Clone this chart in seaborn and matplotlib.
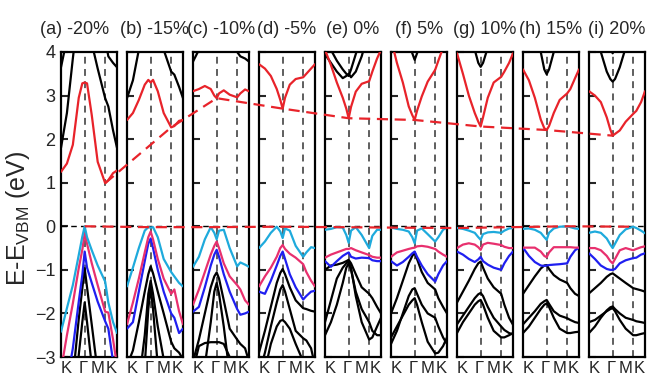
import numpy as np
import pandas as pd
import seaborn as sns
import matplotlib.pyplot as plt
from matplotlib.lines import Line2D
from matplotlib.transforms import ScaledTranslation

# k-path K -> Gamma -> M -> K (path length units)
K_PATH = [0.0, 0.25, 0.5, 0.75, 0.9, 1.0, 1.1, 1.3, 1.55, 1.866, 2.0, 2.2, 2.366]
K_TICKS = [0.0, 1.0, 1.866, 2.366]
K_LABELS = ['K', 'Γ', 'M', 'K']
Y_TICKS = [4, 3, 2, 1, 0, -1, -2, -3]
TITLES = ['(a) -20%', '(b) -15%', '(c) -10%', '(d) -5%', '(e) 0%',
          '(f) 5%', '(g) 10%', '(h) 15%', '(i) 20%']

# lowest conduction band (red), one row per strain
RED = [
    [1.25, 1.44, 1.87, 2.95, 3.28, 3.3, 3.28, 2.55, 1.48, 0.99, 1.06, 1.22, 1.28],
    [2.44, 2.6, 2.9, 3.25, 3.36, 3.3, 3.36, 3.1, 2.6, 2.27, 2.3, 2.42, 2.44],
    [3.1, 3.15, 3.22, 3.15, 3.0, 2.94, 3.05, 3.12, 3.02, 2.96, 3.05, 3.14, 3.1],
    [3.72, 3.62, 3.45, 3.15, 2.9, 2.7, 2.95, 3.25, 3.38, 3.42, 3.5, 3.62, 3.72],
    [4.05, 3.7, 3.3, 2.95, 2.7, 2.48, 2.74, 3.09, 3.27, 3.33, 3.55, 3.85, 4.05],
    [4.3, 3.75, 3.3, 2.75, 2.55, 2.44, 2.65, 2.98, 3.32, 3.59, 3.8, 4.1, 4.35],
    [3.97, 3.5, 3.0, 2.6, 2.4, 2.29, 2.5, 2.95, 3.3, 3.43, 3.55, 3.75, 3.97],
    [3.6, 3.35, 2.95, 2.45, 2.25, 2.21, 2.3, 2.6, 2.9, 3.05, 3.15, 3.4, 3.6],
    [3.1, 3.0, 2.85, 2.5, 2.22, 2.08, 2.12, 2.2, 2.4, 2.58, 2.65, 2.85, 3.1],
]
# higher conduction bands (black)
CB1 = [
    [1.8, 2.6, 3.85, 5.0, 5.5, 5.5, 5.5, 4.2, 3.62, 2.94, 2.75, 2.2, 1.8],
    [2.94, 3.35, 4.05, 4.6, 5.0, 5.0, 5.0, 4.6, 4.05, 3.55, 3.48, 3.2, 2.94],
    [3.78, 4.05, 4.5, 5.0, 5.0, 5.0, 5.0, 4.6, 4.2, 4.0, 3.9, 3.85, 3.78],
    [5.0, 5.0, 5.0, 5.0, 5.0, 5.0, 5.0, 5.0, 5.0, 5.0, 5.0, 5.0, 5.0],
    [3.95, 3.75, 3.55, 3.4, 3.45, 3.5, 3.42, 3.55, 3.9, 4.5, 5.0, 5.0, 5.0],
    [5.0, 5.0, 5.0, 4.3, 3.97, 3.82, 3.97, 4.3, 5.0, 5.0, 5.0, 5.0, 5.0],
    [5.0, 5.0, 5.0, 4.05, 3.75, 3.66, 3.75, 4.1, 5.0, 5.0, 5.0, 5.0, 5.0],
    [5.0, 5.0, 5.0, 4.0, 3.6, 3.49, 3.6, 4.0, 5.0, 5.0, 5.0, 5.0, 5.0],
    [5.0, 5.0, 4.0, 3.55, 3.38, 3.32, 3.38, 3.65, 4.1, 5.0, 5.0, 5.0, 5.0],
]
CB2 = [
    [3.65, 4.3, 5.0, 5.0, 5.0, 5.0, 5.0, 5.0, 5.0, 4.3, 3.9, 3.75, 3.65],
    [5.0] * 13,
    [5.0] * 13,
    [5.0] * 13,
    [4.6, 4.05, 3.8, 3.6, 3.5, 3.45, 3.6, 3.95, 4.4, 5.0, 5.0, 5.0, 5.0],
    [5.0] * 13,
    [5.0] * 13,
    [5.0] * 13,
    [5.0, 5.0, 5.0, 5.0, 4.1, 3.97, 4.1, 5.0, 5.0, 5.0, 5.0, 5.0, 5.0],
]
# top three valence bands
CYAN = [
    [-2.42, -1.88, -1.35, -0.66, -0.24, 0.0, -0.25, -0.55, -0.9, -1.27, -1.75, -2.2, -2.45],
    [-1.38, -0.95, -0.5, -0.1, -0.02, -0.03, -0.02, -0.25, -0.75, -1.05, -1.15, -1.3, -1.38],
    [-0.93, -0.7, -0.3, -0.02, -0.15, -0.3, -0.1, -0.08, -0.5, -0.92, -0.83, -0.88, -0.93],
    [-0.5, -0.35, -0.15, -0.01, -0.12, -0.27, -0.05, -0.1, -0.45, -0.7, -0.6, -0.48, -0.5],
    [-0.08, -0.06, -0.02, -0.03, -0.2, -0.38, -0.1, -0.02, -0.2, -0.5, -0.22, -0.08, -0.08],
    [-0.03, -0.06, -0.08, -0.12, -0.25, -0.39, -0.1, -0.05, -0.18, -0.35, -0.25, -0.08, -0.03],
    [-0.04, -0.06, -0.1, -0.15, -0.25, -0.31, -0.18, -0.14, -0.13, -0.15, -0.1, -0.05, -0.04],
    [-0.06, -0.05, -0.08, -0.15, -0.25, -0.31, -0.15, -0.05, -0.01, 0.0, -0.02, -0.05, -0.06],
    [-0.15, -0.12, -0.15, -0.28, -0.42, -0.5, -0.4, -0.2, -0.07, -0.01, -0.04, -0.1, -0.16],
]
MAGENTA = [
    [-3.3, -2.5, -1.77, -0.96, -0.54, -0.16, -0.4, -0.85, -1.35, -1.96, -1.98, -2.6, -3.2],
    [-2.25, -1.75, -1.2, -0.6, -0.25, -0.12, -0.3, -0.75, -1.2, -1.55, -1.45, -1.95, -2.25],
    [-1.8, -1.45, -1.05, -0.65, -0.45, -0.35, -0.5, -0.85, -1.15, -1.35, -1.45, -1.7, -1.8],
    [-1.38, -1.15, -0.95, -0.7, -0.5, -0.43, -0.52, -0.63, -0.72, -0.87, -1.05, -1.25, -1.38],
    [-0.72, -0.65, -0.6, -0.55, -0.52, -0.52, -0.5, -0.55, -0.6, -0.66, -0.7, -0.72, -0.72],
    [-0.7, -0.6, -0.56, -0.52, -0.5, -0.49, -0.46, -0.45, -0.47, -0.52, -0.58, -0.65, -0.7],
    [-0.5, -0.42, -0.39, -0.42, -0.48, -0.54, -0.42, -0.38, -0.4, -0.43, -0.47, -0.5, -0.5],
    [-0.49, -0.49, -0.49, -0.58, -0.68, -0.71, -0.6, -0.48, -0.48, -0.48, -0.48, -0.49, -0.49],
    [-0.5, -0.5, -0.55, -0.68, -0.8, -0.85, -0.75, -0.55, -0.5, -0.55, -0.52, -0.48, -0.46],
]
BLUE = [
    [-4.5, -3.6, -2.8, -1.73, -1.12, -0.58, -0.95, -1.3, -1.73, -2.18, -2.35, -3.1, -4.0],
    [-2.35, -2.2, -1.5, -0.8, -0.4, -0.28, -0.5, -1.0, -1.5, -2.0, -2.1, -2.45, -2.35],
    [-1.96, -1.85, -1.4, -0.9, -0.65, -0.54, -0.7, -1.1, -1.5, -1.9, -2.03, -2.0, -1.96],
    [-1.5, -1.55, -1.25, -0.9, -0.68, -0.58, -0.75, -1.1, -1.4, -1.68, -1.6, -1.5, -1.48],
    [-0.8, -0.93, -0.8, -0.68, -0.63, -0.6, -0.7, -0.74, -0.72, -0.73, -0.78, -0.8, -0.8],
    [-0.8, -0.9, -0.82, -0.7, -0.62, -0.58, -0.7, -0.9, -1.1, -1.27, -1.1, -0.9, -0.8],
    [-0.58, -0.65, -0.75, -0.82, -0.76, -0.7, -0.8, -0.88, -0.95, -1.0, -0.85, -0.68, -0.58],
    [-0.49, -0.68, -0.82, -0.9, -0.91, -0.9, -0.89, -0.88, -0.87, -0.85, -0.7, -0.55, -0.49],
    [-0.62, -0.75, -0.9, -0.98, -1.0, -1.0, -0.98, -0.85, -0.78, -0.73, -0.72, -0.65, -0.62],
]
# deeper valence bands (black)
VB1 = [
    [-7.0, -5.8, -3.5, -2.13, -1.43, -0.96, -1.4, -2.26, -3.35, -5.0, -6.0, -7.0, -7.0],
    [-3.2, -2.85, -2.2, -1.5, -1.1, -0.92, -1.08, -1.5, -2.0, -2.65, -2.8, -2.9, -3.05],
    [-3.1, -2.6, -2.0, -1.4, -1.15, -1.06, -1.2, -1.7, -2.35, -2.6, -2.7, -2.8, -3.1],
    [-2.9, -2.4, -1.85, -1.3, -1.07, -0.98, -1.1, -1.4, -1.7, -1.88, -1.9, -1.94, -1.96],
    [-1.0, -0.9, -0.88, -0.84, -0.8, -0.77, -0.85, -1.1, -1.4, -1.55, -1.65, -1.85, -2.0],
    [-2.0, -1.65, -1.25, -0.85, -0.68, -0.6, -0.75, -1.05, -1.3, -1.45, -1.65, -1.85, -2.0],
    [-1.75, -1.5, -1.25, -0.98, -0.85, -0.81, -0.95, -1.2, -1.4, -1.55, -1.8, -2.1, -2.26],
    [-1.55, -1.35, -1.15, -0.97, -0.9, -0.89, -0.98, -1.12, -1.22, -1.3, -1.42, -1.55, -1.6],
    [-1.54, -1.42, -1.3, -1.16, -1.1, -1.08, -1.12, -1.2, -1.3, -1.42, -1.44, -1.47, -1.5],
]
VB2 = [
    [-8.0, -7.0, -5.0, -2.95, -2.2, -1.75, -2.2, -3.2, -4.5, -6.0, -7.0, -8.0, -8.0],
    [-5.0, -4.5, -3.6, -2.5, -1.55, -1.25, -1.55, -2.3, -3.05, -4.0, -5.0, -5.0, -5.0],
    [-5.0, -4.5, -3.2, -2.2, -1.5, -1.3, -1.55, -2.3, -3.4, -4.5, -5.0, -5.0, -5.0],
    [-3.4, -2.9, -2.3, -1.75, -1.45, -1.35, -1.5, -1.9, -2.4, -2.57, -2.62, -2.8, -3.2],
    [-2.2, -1.7, -1.2, -0.95, -0.85, -0.8, -0.95, -1.6, -2.2, -2.6, -2.55, -2.3, -2.1],
    [-2.7, -2.4, -2.0, -1.6, -1.45, -1.42, -1.55, -1.8, -2.0, -2.1, -2.3, -2.55, -2.7],
    [-2.25, -2.05, -1.85, -1.65, -1.56, -1.53, -1.6, -1.85, -2.1, -2.3, -2.38, -2.45, -2.48],
    [-2.25, -2.1, -1.95, -1.78, -1.72, -1.69, -1.78, -1.95, -2.05, -2.11, -2.15, -2.2, -2.22],
    [-2.45, -2.3, -2.1, -1.93, -1.86, -1.84, -1.9, -2.0, -2.1, -2.15, -2.18, -2.2, -2.22],
]
VB3 = [
    [-8.0] * 13,
    [-5.0, -5.0, -4.5, -3.2, -1.9, -1.4, -1.9, -3.2, -4.5, -5.0, -5.0, -5.0, -5.0],
    [-3.3, -2.75, -2.68, -2.66, -2.66, -2.66, -2.66, -2.7, -3.0, -3.5, -4.0, -4.0, -4.0],
    [-4.0, -3.3, -2.7, -2.3, -2.17, -2.15, -2.2, -2.35, -2.7, -3.1, -3.4, -3.8, -4.0],
    [-2.5, -2.2, -1.8, -1.3, -0.95, -0.85, -1.0, -1.5, -1.9, -2.2, -2.4, -2.5, -2.5],
    [-2.55, -2.3, -2.05, -1.8, -1.7, -1.65, -1.8, -2.2, -2.65, -2.92, -2.9, -2.75, -2.55],
    [-2.45, -2.2, -2.0, -1.8, -1.72, -1.69, -1.8, -2.1, -2.4, -2.55, -2.55, -2.5, -2.45],
    [-2.45, -2.3, -2.1, -1.9, -1.8, -1.77, -1.85, -2.1, -2.35, -2.45, -2.45, -2.43, -2.42],
    [-2.2, -2.15, -2.05, -1.95, -1.9, -1.88, -1.95, -2.15, -2.35, -2.5, -2.5, -2.47, -2.45],
]

RED_C = '#e8232a'
BANDS = {'vb3': VB3, 'vb2': VB2, 'vb1': VB1, 'cb2': CB2, 'cb1': CB1,
         'blue': BLUE, 'magenta': MAGENTA, 'cyan': CYAN, 'red': RED}
PALETTE = {'vb3': 'black', 'vb2': 'black', 'vb1': 'black', 'cb2': 'black',
           'cb1': 'black', 'blue': '#1f1ff0', 'magenta': '#e8306e',
           'cyan': '#1eaadc', 'red': RED_C}

sns.set_style('ticks')
plt.rcParams['font.family'] = ['Liberation Sans', 'DejaVu Sans']

fig = plt.figure(figsize=(6.52, 3.83), dpi=100)

left0, step, width = 61 / 652, 66 / 652, 56 / 652
bottom, height = 1 - 357 / 383, 305 / 383

# label alignment / small pixel nudges for K, Gamma, M, K
lbl_ha = ['left', 'center', 'right', 'right']
lbl_dx = [0, -1, -1, 0]

axes = []
for i, title in enumerate(TITLES):
    ax = fig.add_axes([left0 + i * step, bottom, width, height])
    rows = []
    for name, table in BANDS.items():
        for k, e in zip(K_PATH, table[i]):
            rows.append({'k': k, 'E': e, 'band': name})
    df = pd.DataFrame(rows)

    ax.axhline(0, color='black', ls=(0, (4, 3)), lw=1.0, zorder=1)
    for kt in K_TICKS[1:3]:
        ax.axvline(kt, color='#333333', ls=(0, (4.5, 3.5)), lw=1.1, zorder=1)

    sns.lineplot(data=df, x='k', y='E', hue='band', hue_order=list(BANDS),
                 palette=PALETTE, estimator=None, sort=False, legend=False,
                 lw=1.6, ax=ax, zorder=3)

    ax.set_xlim(K_TICKS[0], K_TICKS[-1])
    ax.set_ylim(-3, 4)
    ax.set_xticks(K_TICKS, K_LABELS)
    ax.set_yticks(Y_TICKS)
    ax.tick_params(axis='x', length=0, pad=3, labelsize=12)
    ax.tick_params(axis='y', direction='in', length=5, width=1.5,
                   labelsize=13, pad=4, right=False)
    for lbl, ha, dx in zip(ax.get_xticklabels(), lbl_ha, lbl_dx):
        lbl.set_horizontalalignment(ha)
        lbl.set_transform(lbl.get_transform() +
                          ScaledTranslation(dx / 100, 0, fig.dpi_scale_trans))
    if i > 0:
        ax.set_yticklabels([])
    ax.set_xlabel('')
    ax.set_ylabel('')
    for sp in ax.spines.values():
        sp.set_linewidth(1.6)
        sp.set_color('black')
    ax.set_title(title, fontsize=13, pad=13, x=0.25 if i == 0 else 0.5)
    axes.append(ax)

# dashed lines joining the band edges across panels
to_fig = fig.transFigure.inverted()


def edge_line(band, pick):
    pts = []
    for ax, vals in zip(axes, band):
        j = int(pick(vals))
        disp = ax.transData.transform((K_PATH[j], vals[j]))
        pts.append(to_fig.transform(disp))
    pts = np.array(pts)
    fig.add_artist(Line2D(pts[:, 0], pts[:, 1], transform=fig.transFigure,
                          color=RED_C, ls=(0, (5, 3)), lw=1.6, zorder=5))


edge_line(RED, np.argmin)
edge_line(CYAN, np.argmax)

fig.text(18 / 652, 1 - 218 / 383, 'E-E$_\\mathregular{VBM}$ (eV)', rotation=90,
         fontsize=18, ha='center', va='center')

fig.savefig('out.png', dpi=100)
